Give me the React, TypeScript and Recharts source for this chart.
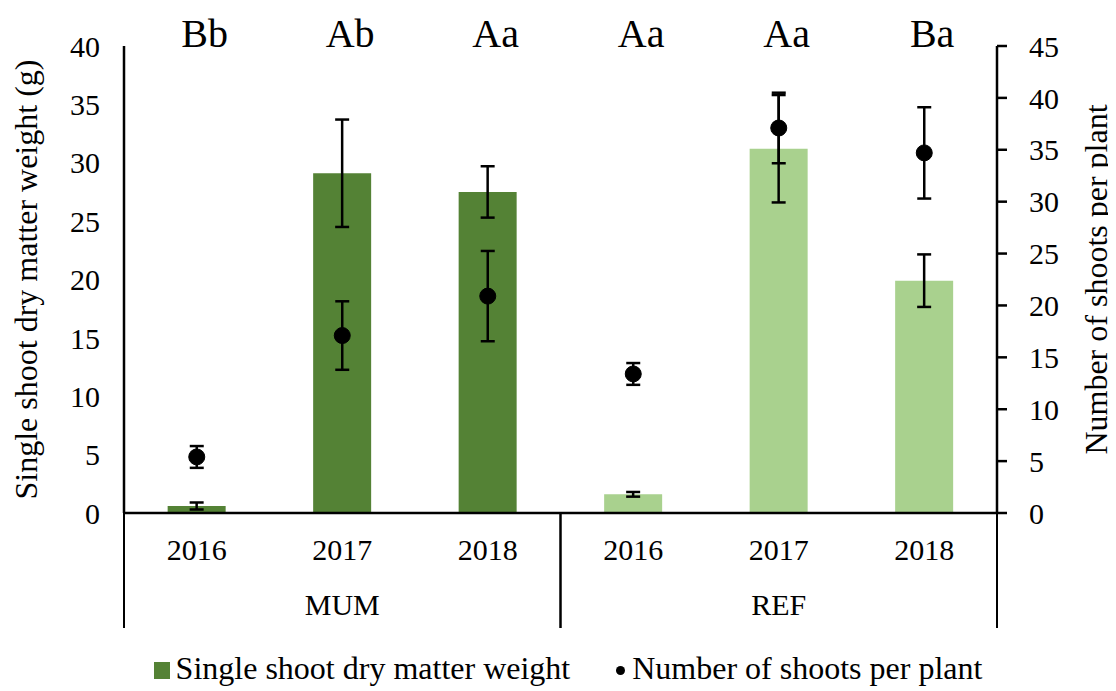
import React from "react";
import {
  ComposedChart,
  Bar,
  Line,
  XAxis,
  YAxis,
  ErrorBar,
  Cell,
  Legend,
  LabelList,
  Label,
} from "recharts";

// values
const SITES = ["MUM", "REF"];
const YEARS = ["2016", "2017", "2018"];
const DRY_WEIGHT = [0.6, 29.1, 27.5, 1.6, 31.2, 19.9];
const DRY_WEIGHT_ERR = [0.3, 4.6, 2.2, 0.2, 4.6, 2.25];
const SHOOTS = [5.4, 17.1, 20.9, 13.4, 37.1, 34.7];
const SHOOTS_ERR = [1.05, 3.3, 4.35, 1.05, 3.4, 4.4];
const LETTERS = ["Bb", "Ab", "Aa", "Aa", "Aa", "Ba"];
const LEFT_TICKS = [0, 5, 10, 15, 20, 25, 30, 35, 40];
const RIGHT_TICKS = [0, 5, 10, 15, 20, 25, 30, 35, 40, 45];

const SITE_COLORS: Record<string, string> = { MUM: "#548235", REF: "#A9D18E" };
const FONT = '"Liberation Serif", "Times New Roman", serif';

const W = 1108;
const H = 683;
const MARGIN = { top: 38, right: 6, bottom: 3, left: 6 };
const LEFT_AXIS_W = 110;
const RIGHT_AXIS_W = 113;
const PLOT_W = W - MARGIN.left - MARGIN.right - LEFT_AXIS_W - RIGHT_AXIS_W;
const TICK_FONT = 30;

const data = SITES.flatMap((site, s) =>
  YEARS.map((year, y) => {
    const i = s * YEARS.length + y;
    return {
      key: `${site} ${year}`,
      site,
      year,
      weight: DRY_WEIGHT[i],
      weightErr: DRY_WEIGHT_ERR[i],
      shoots: SHOOTS[i],
      shootsErr: SHOOTS_ERR[i],
      letter: LETTERS[i],
    };
  })
);

const band = PLOT_W / data.length;

const XTick = (props: any) => {
  const { x, y, index } = props;
  const row = data[index];
  if (!row) return null;
  const yearIdx = index % YEARS.length;
  const lines: number[] = [];
  if (yearIdx === 0) lines.push(x - band / 2);
  if (yearIdx === YEARS.length - 1) lines.push(x + band / 2);
  return (
    <g>
      <text x={x} y={y + 47} textAnchor="middle" fontSize={TICK_FONT} fontFamily={FONT} fill="#000">
        {row.year}
      </text>
      {yearIdx === 1 && (
        <text x={x} y={y + 102} textAnchor="middle" fontSize={TICK_FONT} fontFamily={FONT} fill="#000">
          {row.site}
        </text>
      )}
      {lines.map((lx) => (
        <line key={lx} x1={lx} x2={lx} y1={y} y2={y + 115} stroke="#000" strokeWidth={2} />
      ))}
    </g>
  );
};

const AxisTitle = (props: any) => {
  const { viewBox, cx, text } = props;
  const cy = viewBox.y + viewBox.height / 2;
  return (
    <text
      x={cx}
      y={cy}
      transform={`rotate(-90 ${cx} ${cy})`}
      textAnchor="middle"
      dominantBaseline="central"
      fontSize={32}
      fontFamily={FONT}
      fill="#000"
    >
      {text}
    </text>
  );
};

const LetterLabel = (props: any) => {
  const { x, width, value } = props;
  return (
    <text
      x={x + width / 2 + 8}
      y={MARGIN.top + 1}
      textAnchor="middle"
      fontSize={40}
      fontFamily={FONT}
      fill="#000"
    >
      {value}
    </text>
  );
};

const LegendContent = () => (
  <div
    style={{
      height: 40,
      display: "flex",
      justifyContent: "center",
      alignItems: "center",
      fontFamily: FONT,
      fontSize: 32,
      color: "#000",
      paddingLeft: 12,
    }}
  >
    <span style={{ display: "flex", alignItems: "center" }}>
      <span style={{ width: 16, height: 17, background: SITE_COLORS.MUM, marginRight: 6, marginTop: 4 }} />
      Single shoot dry matter weight
    </span>
    <span style={{ display: "flex", alignItems: "center", marginLeft: 46 }}>
      <span
        style={{ width: 9, height: 9, borderRadius: "50%", background: "#000", marginRight: 7, marginTop: 4 }}
      />
      Number of shoots per plant
    </span>
  </div>
);

export default function App() {
  return (
    <div style={{ width: W, height: H, background: "#fff" }}>
      <ComposedChart
        width={W}
        height={H}
        data={data}
        margin={MARGIN}
        barCategoryGap="30%"
        style={{ fontFamily: FONT }}
      >
        <XAxis
          dataKey="key"
          height={135}
          interval={0}
          tickLine={false}
          tickSize={0}
          tickMargin={0}
          axisLine={{ stroke: "#000", strokeWidth: 2.5 }}
          tick={<XTick />}
        />
        <YAxis
          yAxisId="left"
          orientation="left"
          width={LEFT_AXIS_W}
          domain={[0, 40]}
          ticks={LEFT_TICKS}
          interval={0}
          tickLine={false}
          tickSize={8}
          tickMargin={16}
          axisLine={{ stroke: "#000", strokeWidth: 2.5 }}
          tick={{ fill: "#000", fontSize: TICK_FONT, fontFamily: FONT }}
        >
          <Label content={<AxisTitle cx={MARGIN.left + 12} text="Single shoot dry matter weight (g)" />} />
        </YAxis>
        <YAxis
          yAxisId="right"
          orientation="right"
          width={RIGHT_AXIS_W}
          domain={[0, 45]}
          ticks={RIGHT_TICKS}
          interval={0}
          tickSize={10}
          tickMargin={22}
          tickLine={{ stroke: "#000", strokeWidth: 2.5 }}
          axisLine={{ stroke: "#000", strokeWidth: 2.5 }}
          tick={{ fill: "#000", fontSize: TICK_FONT, fontFamily: FONT }}
        >
          <Label content={<AxisTitle cx={W - MARGIN.right - 14} text="Number of shoots per plant" />} />
        </YAxis>
        <Legend verticalAlign="bottom" height={40} content={<LegendContent />} />
        <Bar yAxisId="left" dataKey="weight" isAnimationActive={false}>
          {data.map((d) => (
            <Cell key={d.key} fill={SITE_COLORS[d.site]} />
          ))}
          <ErrorBar dataKey="weightErr" width={7} stroke="#000" strokeWidth={2.5} direction="y" />
          <LabelList dataKey="letter" content={<LetterLabel />} />
        </Bar>
        <Line
          yAxisId="right"
          dataKey="shoots"
          stroke="none"
          dot={{ r: 8, fill: "#000", stroke: "#000", strokeWidth: 1 }}
          activeDot={false}
          isAnimationActive={false}
        >
          <ErrorBar dataKey="shootsErr" width={7} stroke="#000" strokeWidth={2.5} direction="y" />
        </Line>
      </ComposedChart>
    </div>
  );
}
